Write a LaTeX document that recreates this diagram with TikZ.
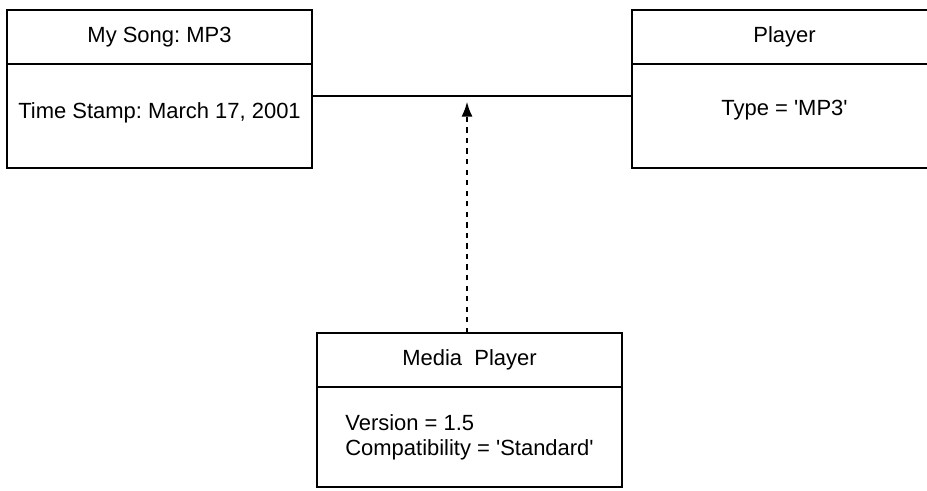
\documentclass[tikz,border=0pt]{standalone}
\usepackage{fontspec}
\setmainfont{Liberation Sans}
\frenchspacing
\usetikzlibrary{positioning,arrows.meta}
\tikzset{
  namebox/.style={draw, line width=1.4pt, outer sep=0pt, inner sep=0pt, minimum width=6.1cm, minimum height=1.08cm, align=center},
  attrbox/.style={draw, line width=1.4pt, outer sep=0pt, inner sep=0pt, minimum width=6.1cm, minimum height=2.08cm, align=left},
  linkline/.style={line width=1.4pt},
  deparrow/.style={-{Latex[length=3mm, width=2.2mm]}, line width=1.3pt, dash pattern=on 3pt off 3pt, shorten >=1.1mm}
}

\begin{document}
\begin{tikzpicture}[every node/.style={font=\fontsize{12.5pt}{14.2pt}\selectfont}]
  \useasboundingbox (0,0) rectangle (18.54,9.8);
  \node[namebox] (songname) at (3.19,9.06) {My Song: MP3};
  \node[attrbox, text depth=0.2cm, below=0pt of songname] (songattr) {Time Stamp: March 17, 2001};
  \node[namebox] (playername) at (15.69,9.06) {Player};
  \node[attrbox, text depth=0.32cm, below=0pt of playername] (playerattr) {Type = \textquotesingle MP3\textquotesingle};
  \node[namebox] (medianame) at (9.39,2.60) {Media\ \ Player};
  \node[attrbox, minimum height=2.0cm, below=0pt of medianame] (mediaattr) {Version = 1.5\\Compatibility = \textquotesingle Standard\textquotesingle};
  \coordinate (link) at (9.34,7.88);
  \draw[linkline] (songattr.east |- link) -- (playerattr.west |- link);
  \draw[deparrow] (medianame.north -| link) -- (link);
\end{tikzpicture}
\end{document}
